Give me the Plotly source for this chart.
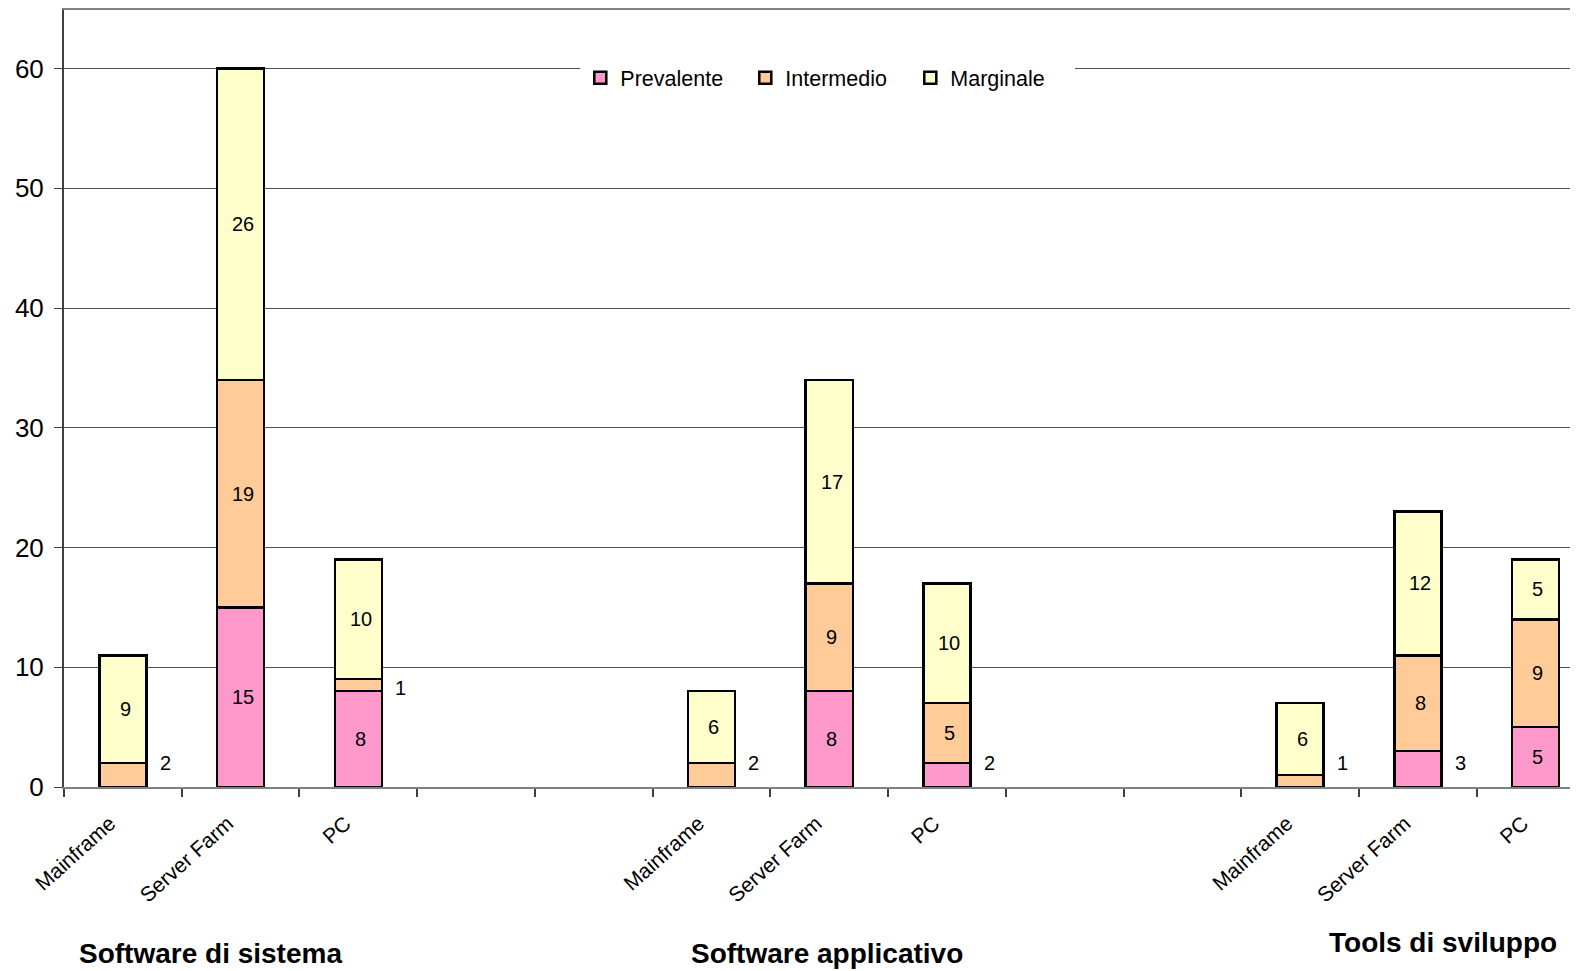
import plotly.graph_objects as go

# Data
groups = ["Software di sistema", "Software applicativo", "Tools di sviluppo"]
platforms = ["Mainframe", "Server Farm", "PC"]
series_names = ["Prevalente", "Intermedio", "Marginale"]
prevalente = [0, 15, 8, 0, 8, 2, 0, 3, 5]
intermedio = [2, 19, 1, 2, 9, 5, 1, 8, 9]
marginale = [9, 26, 10, 6, 17, 10, 6, 12, 5]
colors = ["#FF99CC", "#FFCC99", "#FFFFCC"]

# category slot positions (two empty slots between groups)
xpos = [g * 5 + p for g in range(3) for p in range(3)]
ticktext = platforms * 3

FONT = "Liberation Sans, Arial, sans-serif"
# page body has an 8px margin: figure origin sits at (8, 8) in the window
OFF = 8
FIG_W, FIG_H = 1578, 971
PL, PT, PB = 64.4, 8, 786.7          # plot area edges in window pixels
PR = FIG_W + OFF                      # right edge of figure in window
SLOT = 117.7                          # px per category slot
PX_PER_UNIT = 12.0                    # px per y unit

fig = go.Figure()
series = [prevalente, intermedio, marginale]
for name, vals, col in zip(series_names, series, colors):
    fig.add_trace(go.Bar(
        x=xpos, y=vals, name=name, width=0.40,
        marker=dict(color=col, line=dict(color="black", width=2.5)),
    ))

# value labels (small segments are labelled beside the bar)
SMALL = 3
for si, vals in enumerate(series):
    for i, v in enumerate(vals):
        if v == 0:
            continue
        base = sum(series[k][i] for k in range(si))
        mid = base + v / 2
        if v <= SMALL:
            fig.add_annotation(x=xpos[i] + 0.36, y=max(mid - 0.2, 2.0), text=str(v),
                               showarrow=False, xanchor="center", yanchor="middle",
                               font=dict(family=FONT, size=20, color="black"))
        else:
            fig.add_annotation(x=xpos[i] + 0.02, y=mid, text=str(v), showarrow=False,
                               font=dict(family=FONT, size=20, color="black"))

# group titles (window pixel centres)
title_pos = [(211, 954), (827, 954), (1443, 943)]
for g, (px, py) in zip(groups, title_pos):
    fig.add_annotation(xref="paper", yref="paper",
                       x=(px - PL) / (PR - PL), y=(PB - py) / (PB - PT),
                       text="<b>%s</b>" % g,
                       showarrow=False, xanchor="center", yanchor="middle",
                       font=dict(family=FONT, size=28, color="black"))

ytop = (PB - PT) / PX_PER_UNIT
xmax = -0.5 + (PR - PL) / SLOT

fig.update_layout(
    barmode="stack",
    width=FIG_W, height=FIG_H,
    margin=dict(l=PL - OFF, r=0, t=PT - OFF, b=FIG_H - (PB - OFF)),
    plot_bgcolor="white", paper_bgcolor="white",
    font=dict(family=FONT, color="black"),
    showlegend=True,
    legend=dict(orientation="h", x=(828 - PL) / (PR - PL), y=(PB - 76) / (PB - PT),
                xanchor="center", yanchor="middle",
                bgcolor="white", font=dict(family=FONT, size=21.5), itemwidth=30,
                entrywidth=120, traceorder="normal"),
    xaxis=dict(range=[-0.5, xmax], tickvals=[x - 0.11 for x in xpos], ticktext=ticktext,
               tickangle=-42,
               tickfont=dict(family=FONT, size=21), showgrid=False, zeroline=False,
               showline=True, linecolor="#808080", linewidth=2, mirror=True,
               ticks="", ticklabelstandoff=14,
               minor=dict(tick0=-0.5, dtick=1, ticks="outside", ticklen=8,
                          tickcolor="#404040", tickwidth=1.5, showgrid=False)),
    yaxis=dict(range=[0, ytop], tickvals=[0, 10, 20, 30, 40, 50, 60],
               tickfont=dict(family=FONT, size=26), showgrid=True,
               gridcolor="#505050", gridwidth=1, zeroline=False,
               showline=True, linecolor="#404040", linewidth=2,
               ticks="outside", ticklen=8, tickcolor="#404040",
               ticklabelstandoff=5),
)

fig.write_html("out.html")
